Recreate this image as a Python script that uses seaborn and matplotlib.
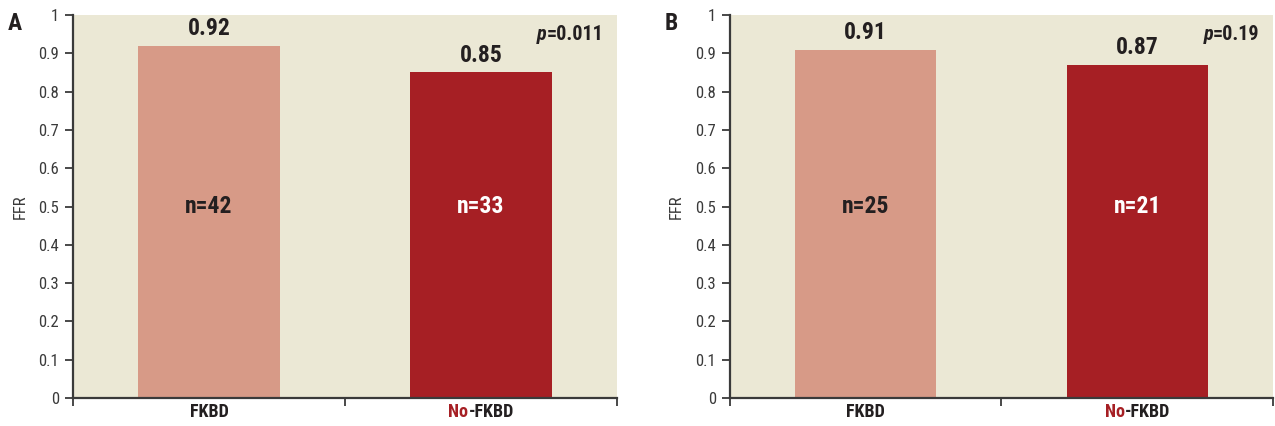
import matplotlib
matplotlib.use("Agg")
import matplotlib.pyplot as plt
import matplotlib.transforms as mtransforms
from matplotlib import font_manager
import pandas as pd
import seaborn as sns

# ----------------------------------------------
# Data
# ----------------------------------------------
GROUPS = ["FKBD", "No-FKBD"]
FFR_A = [0.92, 0.85]
FFR_B = [0.91, 0.87]
N_A = [42, 33]
N_B = [25, 21]
P_A = "0.011"
P_B = "0.19"
PANELS = ["A", "B"]
YTICKS = [0, 0.1, 0.2, 0.3, 0.4, 0.5, 0.6, 0.7, 0.8, 0.9, 1]
YTICKLABELS = ["0", "0.1", "0.2", "0.3", "0.4", "0.5", "0.6", "0.7", "0.8", "0.9", "1"]

LIGHT = "#D79A87"
DARK = "#A61F24"
BG = "#EBE8D5"
INK = "#231F20"
GREY = "#3A3A3A"

sns.set_style("ticks")

# pick a narrow face if one is installed
installed = {f.name for f in font_manager.fontManager.ttflist}
narrow = [n for n in ["Roboto Condensed", "Liberation Sans Narrow",
                      "Open Sans Condensed"] if n in installed]
plt.rcParams["font.family"] = narrow + ["DejaVu Sans"]
plt.rcParams["font.stretch"] = "condensed"


def draw_panel(fig, rect, letter, values, ns, pval):
    ax = fig.add_axes(rect)
    df = pd.DataFrame({"group": GROUPS, "ffr": values})
    sns.barplot(data=df, x="group", y="ffr", hue="group",
                palette=[LIGHT, DARK], width=0.52, saturation=1,
                linewidth=0, legend=False, ax=ax)
    ax.set_facecolor(BG)
    ax.set_xlim(-0.5, 1.5)
    ax.set_ylim(0, 1)
    ax.set_yticks(YTICKS)
    ax.set_yticklabels(YTICKLABELS)
    ax.set_xticks([-0.5, 0.5, 1.5])
    ax.set_xticklabels([])
    ax.tick_params(axis="y", labelsize=12, length=6, width=1.3,
                   color=GREY, labelcolor=GREY, pad=4)
    ax.tick_params(axis="x", length=6, width=1.3, color=GREY)
    ax.set_xlabel("")
    ax.set_ylabel("FFR", fontsize=12, color=GREY, labelpad=8)
    for s in ["top", "right"]:
        ax.spines[s].set_visible(False)
    for s in ["left", "bottom"]:
        ax.spines[s].set_linewidth(1.6)
        ax.spines[s].set_color(GREY)

    # values above bars, n inside bars
    for i, (v, n) in enumerate(zip(values, ns)):
        ax.text(i, v + 0.015, f"{v:.2f}", ha="center", va="bottom",
                fontsize=17, fontweight="bold", color=INK)
        ax.text(i, 0.5, f"n={n}", ha="center", va="center",
                fontsize=17, fontweight="bold",
                color=INK if i == 0 else "white")

    # x category labels (red "No")
    trans = mtransforms.blended_transform_factory(ax.transData, ax.transAxes)
    ax.text(0, -0.014, GROUPS[0], transform=trans, ha="center", va="top",
            fontsize=13, fontweight="bold", color=INK)
    full = ax.text(1, -0.014, GROUPS[1], transform=trans, ha="center",
                   va="top", fontsize=13, fontweight="bold", alpha=0)
    no = ax.annotate(GROUPS[1][:2], xy=(0, 0), xycoords=full, ha="left",
                     va="bottom", fontsize=13, fontweight="bold", color=DARK)
    ax.annotate(GROUPS[1][2:], xy=(1, 0), xycoords=no, ha="left",
                va="bottom", fontsize=13, fontweight="bold", color=INK)

    # p-value
    rest = ax.text(0.975, 0.95, "=" + pval, transform=ax.transAxes,
                   ha="right", va="center", fontsize=14.5, fontweight="bold",
                   color=INK)
    ax.annotate("p", xy=(0, 0), xycoords=rest, ha="right", va="bottom",
                fontsize=14.5, fontweight="bold", fontstyle="italic", color=INK)

    # panel letter
    fig.text(rect[0] - 0.046, 0.945, letter, ha="center", va="center",
             fontsize=17, fontweight="bold", color=INK)
    return ax


fig = plt.figure(figsize=(12.75, 4.26), dpi=100)
draw_panel(fig, [0.0573, 0.0657, 0.4267, 0.899], PANELS[0], FFR_A, N_A, P_A)
draw_panel(fig, [0.5725, 0.0657, 0.4259, 0.899], PANELS[1], FFR_B, N_B, P_B)
fig.savefig("out.png", dpi=100)
plt.close(fig)
